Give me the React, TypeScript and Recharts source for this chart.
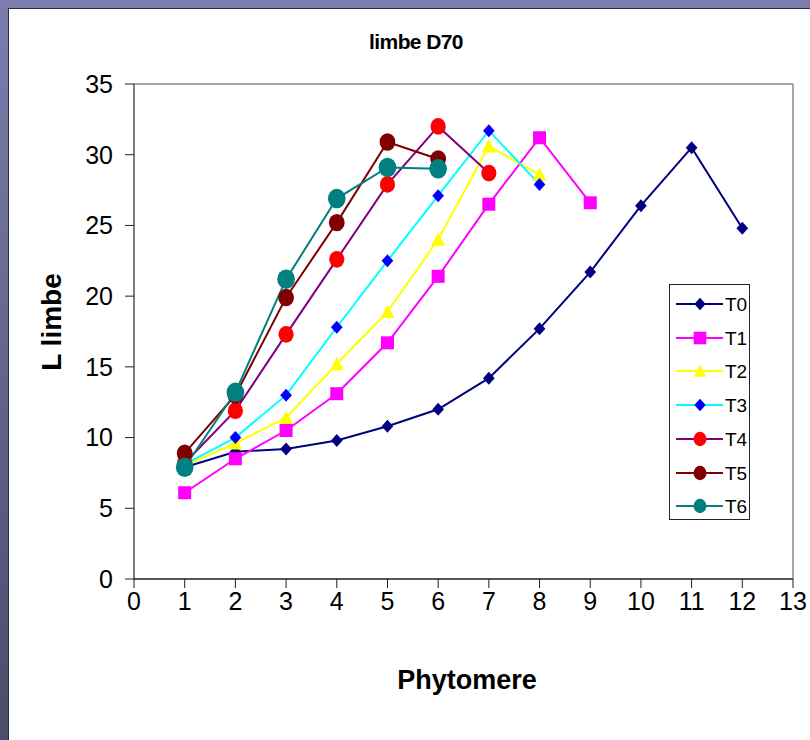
import React from 'react';
import { LineChart, Line, XAxis, YAxis, ReferenceLine } from 'recharts';

// leaf blade length per phytomere rank, one list per treatment
const phytomeres = [1, 2, 3, 4, 5, 6, 7, 8, 9, 10, 11, 12];
const t0 = [7.9, 9.0, 9.2, 9.8, 10.8, 12.0, 14.2, 17.7, 21.7, 26.4, 30.5, 24.8];
const t1 = [6.1, 8.5, 10.5, 13.1, 16.7, 21.4, 26.5, 31.2, 26.6];
const t2 = [8.0, 9.6, 11.4, 15.2, 18.9, 24.0, 30.6, 28.6];
const t3 = [8.1, 10.0, 13.0, 17.8, 22.5, 27.1, 31.7, 27.9];
const t4 = [8.2, 11.9, 17.3, 22.6, 27.9, 32.0, 28.7];
const t5 = [8.9, 13.0, 19.9, 25.2, 30.9, 29.7];
const t6 = [7.9, 13.2, 21.2, 26.9, 29.1, 29.0];

const xTicks = [0, 1, 2, 3, 4, 5, 6, 7, 8, 9, 10, 11, 12, 13];
const yTicks = [0, 5, 10, 15, 20, 25, 30, 35];

type MarkerKind = 'diamond' | 'square' | 'triangle' | 'circle';

interface Series {
  name: string;
  values: number[];
  line: string;
  fill: string;
  marker: MarkerKind;
  size: number;
}

const series: Series[] = [
  { name: 'T0', values: t0, line: '#000080', fill: '#000080', marker: 'diamond', size: 6.5 },
  { name: 'T1', values: t1, line: '#ff00ff', fill: '#ff00ff', marker: 'square', size: 6.5 },
  { name: 'T2', values: t2, line: '#ffff00', fill: '#ffff00', marker: 'triangle', size: 7 },
  { name: 'T3', values: t3, line: '#00ffff', fill: '#0000ff', marker: 'diamond', size: 6.5 },
  { name: 'T4', values: t4, line: '#800080', fill: '#ff0000', marker: 'circle', size: 8 },
  { name: 'T5', values: t5, line: '#800000', fill: '#800000', marker: 'circle', size: 8.3 },
  { name: 'T6', values: t6, line: '#008080', fill: '#008080', marker: 'circle', size: 9.3 },
];

const FONT = '"Liberation Sans", Arial, sans-serif';

function Marker({ cx, cy, kind, fill, r }: { cx: number; cy: number; kind: MarkerKind; fill: string; r: number }) {
  if (kind === 'diamond') {
    return <polygon points={`${cx},${cy - r} ${cx + r * 0.9},${cy} ${cx},${cy + r} ${cx - r * 0.9},${cy}`} fill={fill} />;
  }
  if (kind === 'square') {
    return <rect x={cx - r} y={cy - r} width={r * 2} height={r * 2} fill={fill} />;
  }
  if (kind === 'triangle') {
    return <polygon points={`${cx},${cy - r} ${cx + r},${cy + r * 0.9} ${cx - r},${cy + r * 0.9}`} fill={fill} />;
  }
  return <ellipse cx={cx} cy={cy} rx={r * 0.95} ry={r * 1.05} fill={fill} />;
}

function LegendBox() {
  return (
    <div
      style={{
        position: 'absolute',
        left: 669,
        top: 284,
        width: 81,
        height: 236,
        border: '1px solid #222',
        background: '#fff',
        boxSizing: 'border-box',
      }}
    >
      {series.map((s, i) => (
        <svg
          key={s.name}
          width={79}
          height={30}
          style={{ position: 'absolute', left: 0, top: 4 + i * 33.7 }}
        >
          <line x1={6} x2={53} y1={15} y2={15} stroke={s.line} strokeWidth={2} />
          <Marker cx={30} cy={15} kind={s.marker} fill={s.fill} r={s.marker === 'circle' ? 6.8 : 6.3} />
          <text x={55} y={22} fontSize={19} fontFamily={FONT} fill="#000">
            {s.name}
          </text>
        </svg>
      ))}
    </div>
  );
}

export default function App() {
  return (
    <div
      style={{
        position: 'absolute',
        left: 0,
        top: 0,
        width: 810,
        height: 740,
        overflow: 'hidden',
        background: 'linear-gradient(to bottom, #7d7dad 0%, #4b4b6b 100%)',
      }}
    >
      <div
        style={{
          position: 'absolute',
          left: 8,
          top: 8,
          right: 0,
          bottom: 0,
          background: '#fff',
          borderLeft: '1px solid #2b2b3f',
          borderTop: '1px solid #2b2b3f',
        }}
      />
      <div style={{ position: 'absolute', left: 0, top: 0 }}>
        <LineChart width={812} height={740} margin={{ top: 84, right: 19, bottom: 121, left: 14 }}>
          <XAxis
            type="number"
            dataKey="x"
            domain={[0, 13]}
            ticks={xTicks}
            interval={0}
            allowDataOverflow
            height={40}
            tickSize={9}
            tickMargin={4}
            axisLine={{ stroke: '#555', strokeWidth: 2 }}
            tickLine={{ stroke: '#222' }}
            tick={{ fill: '#000', fontSize: 25, fontFamily: FONT }}
          />
          <YAxis
            type="number"
            domain={[0, 35]}
            ticks={yTicks}
            interval={0}
            width={120}
            tickSize={9}
            tickMargin={12}
            axisLine={{ stroke: '#000' }}
            tickLine={{ stroke: '#222' }}
            tick={{ fill: '#000', fontSize: 25, fontFamily: FONT }}
          />
          <ReferenceLine y={35} stroke="#8a8a8a" strokeWidth={1.5} />
          <ReferenceLine x={13} stroke="#8a8a8a" strokeWidth={1.5} />
          {series.map((s) => (
            <Line
              key={s.name}
              name={s.name}
              data={s.values.map((v, i) => ({ x: phytomeres[i], y: v }))}
              dataKey="y"
              stroke={s.line}
              strokeWidth={2}
              isAnimationActive={false}
              dot={(p: any) => (
                <Marker key={`${s.name}-${p.index}`} cx={p.cx} cy={p.cy} kind={s.marker} fill={s.fill} r={s.size} />
              )}
              activeDot={false}
            />
          ))}
        </LineChart>
      </div>
      <div
        style={{
          position: 'absolute',
          left: 316,
          top: 30,
          width: 200,
          textAlign: 'center',
          fontFamily: FONT,
          fontWeight: 'bold',
          fontSize: 21,
          letterSpacing: -0.6,
        }}
      >
        limbe D70
      </div>
      <div
        style={{
          position: 'absolute',
          left: 52 - 80,
          top: 322 - 17,
          width: 160,
          textAlign: 'center',
          fontFamily: FONT,
          fontWeight: 'bold',
          fontSize: 28,
          lineHeight: '34px',
          transform: 'rotate(-90deg)',
        }}
      >
        L limbe
      </div>
      <div
        style={{
          position: 'absolute',
          left: 367,
          top: 663,
          width: 200,
          textAlign: 'center',
          fontFamily: FONT,
          fontWeight: 'bold',
          fontSize: 27,
          lineHeight: '34px',
        }}
      >
        Phytomere
      </div>
      <LegendBox />
    </div>
  );
}
